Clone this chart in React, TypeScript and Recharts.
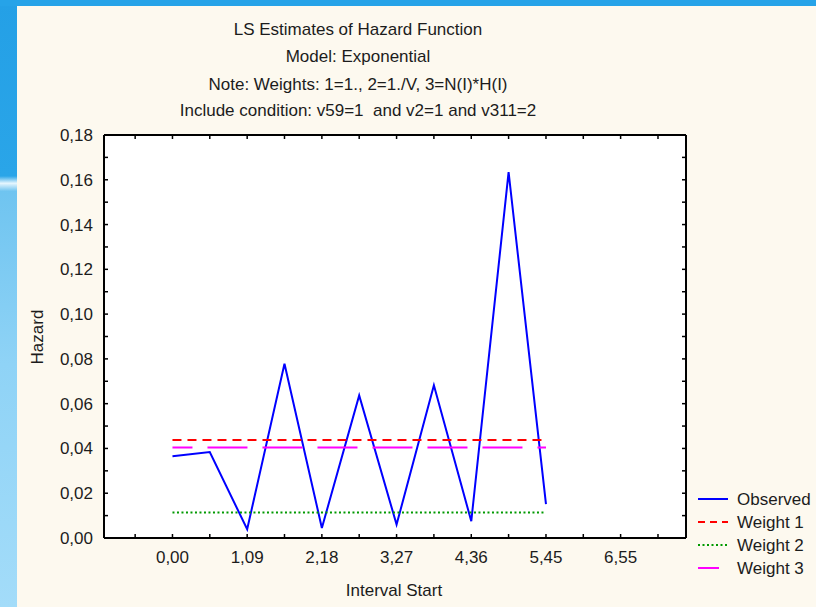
import React from 'react';
import { LineChart, Line, XAxis, YAxis, CartesianGrid, Legend } from 'recharts';

// interval starts (x) and the four series
const intervalStart = [0, 0.545, 1.091, 1.636, 2.182, 2.727, 3.273, 3.818, 4.364, 4.909, 5.455];
const observed = [0.0365, 0.0384, 0.0039, 0.0778, 0.0045, 0.0637, 0.006, 0.0682, 0.0075, 0.1634, 0.0151];
const weight1 = [0.0438, 0.0438, 0.0438, 0.0438, 0.0438, 0.0438, 0.0438, 0.0438, 0.0438, 0.0438, 0.0438];
const weight2 = [0.0114, 0.0114, 0.0114, 0.0114, 0.0114, 0.0114, 0.0114, 0.0114, 0.0114, 0.0114, 0.0114];
const weight3 = [0.0404, 0.0404, 0.0404, 0.0404, 0.0404, 0.0404, 0.0404, 0.0404, 0.0404, 0.0404, 0.0404];

const xMajorTicks = [0, 1.091, 2.182, 3.273, 4.364, 5.455, 6.545];
const xTickLabels = ['0,00', '1,09', '2,18', '3,27', '4,36', '5,45', '6,55'];
const xMinorTicks = [-0.545, 0.545, 1.636, 2.727, 3.818, 4.909, 6.0, 7.091];

const yMajorTicks = [0, 0.02, 0.04, 0.06, 0.08, 0.1, 0.12, 0.14, 0.16, 0.18];
const yTickLabels = ['0,00', '0,02', '0,04', '0,06', '0,08', '0,10', '0,12', '0,14', '0,16', '0,18'];
const yMinorTicks = [0.01, 0.03, 0.05, 0.07, 0.09, 0.11, 0.13, 0.15, 0.17];

const titleLines = [
  'LS Estimates of Hazard Function',
  'Model: Exponential',
  'Note: Weights: 1=1., 2=1./V, 3=N(I)*H(I)',
  'Include condition: v59=1  and v2=1 and v311=2',
];

const data = intervalStart.map((x, i) => ({
  x,
  observed: observed[i],
  w1: weight1[i],
  w2: weight2[i],
  w3: weight3[i],
}));

const xTicks = [...xMinorTicks, ...xMajorTicks].sort((a, b) => a - b);
const yTicks = [...yMinorTicks, ...yMajorTicks].sort((a, b) => a - b);

const FONT = '"Liberation Sans", Arial, sans-serif';
const TEXT = '#1c1c1c';

const SERIES = [
  { key: 'observed', name: 'Observed', color: '#0000ff', width: 2, dash: undefined, offset: 0, sample: 30 },
  { key: 'w1', name: 'Weight 1', color: '#ff0000', width: 2, dash: '9 6', offset: 0, sample: 30 },
  { key: 'w2', name: 'Weight 2', color: '#009900', width: 2, dash: '2 2.5', offset: 0, sample: 30 },
  { key: 'w3', name: 'Weight 3', color: '#ff00ff', width: 2, dash: '40 15', offset: 20, sample: 21 },
];

const BottomTick = ({ x, y, payload }: any) => {
  const i = xMajorTicks.indexOf(payload.value);
  return (
    <g>
      <line x1={x} x2={x} y1={y} y2={y - 4} stroke="#000" strokeWidth={1.5} />
      {i >= 0 && (
        <text x={x} y={y + 25} textAnchor="middle" fontSize={17} fontFamily={FONT} fill={TEXT}>
          {xTickLabels[i]}
        </text>
      )}
    </g>
  );
};

const TopTick = ({ x, y }: any) => (
  <line x1={x} x2={x} y1={y} y2={y + 4} stroke="#000" strokeWidth={1.5} />
);

const LeftTick = ({ x, y, payload }: any) => {
  const i = yMajorTicks.indexOf(payload.value);
  return (
    <g>
      <line x1={x} x2={x + 4} y1={y} y2={y} stroke="#000" strokeWidth={1.5} />
      {i >= 0 && (
        <text x={x - 11} y={y + 6} textAnchor="end" fontSize={17} fontFamily={FONT} fill={TEXT}>
          {yTickLabels[i]}
        </text>
      )}
    </g>
  );
};

const RightTick = ({ x, y }: any) => (
  <line x1={x} x2={x - 4} y1={y} y2={y} stroke="#000" strokeWidth={1.5} />
);

const LegendBox = () => (
  <svg width={126} height={100} style={{ display: 'block' }}>
    {SERIES.map((s, i) => (
      <g key={s.key}>
        <line
          x1={8}
          x2={8 + s.sample}
          y1={11 + i * 23}
          y2={11 + i * 23}
          stroke={s.color}
          strokeWidth={2}
          strokeDasharray={s.key === 'w3' ? undefined : s.dash === '9 6' ? '7 5' : s.dash}
        />
        <text x={47} y={17 + i * 23} fontSize={17} fontFamily={FONT} fill={TEXT}>
          {s.name}
        </text>
      </g>
    ))}
  </svg>
);

export default function App() {
  return (
    <div
      style={{
        position: 'relative',
        width: 816,
        height: 607,
        overflow: 'hidden',
        fontFamily: FONT,
        background:
          'linear-gradient(180deg, #24a0e6 0%, #2aa5e8 29%, #e6f6fe 30.2%, #6fc4f0 31.5%, #8fd3f6 60%, #a3dcf9 100%)',
      }}
    >
      <style>{'body{margin:0}'}</style>
      <div style={{ position: 'absolute', left: 0, top: 0, width: 816, height: 6, background: '#26a3e8' }} />
      <div style={{ position: 'absolute', left: 17, top: 6, right: 0, bottom: 0, background: '#fdf9ef' }} />

      {titleLines.map((t, i) => (
        <div
          key={i}
          style={{
            position: 'absolute',
            left: 158,
            width: 400,
            top: [19, 46, 74, 100][i],
            textAlign: 'center',
            fontSize: 17,
            lineHeight: '22px',
            color: TEXT,
            whiteSpace: 'pre',
          }}
        >
          {t}
        </div>
      ))}

      <div
        style={{
          position: 'absolute',
          left: 38 - 40,
          top: 337 - 11,
          width: 80,
          height: 22,
          lineHeight: '22px',
          textAlign: 'center',
          fontSize: 17,
          color: TEXT,
          transform: 'rotate(-90deg)',
        }}
      >
        Hazard
      </div>
      <div
        style={{
          position: 'absolute',
          left: 394 - 80,
          top: 580,
          width: 160,
          lineHeight: '22px',
          textAlign: 'center',
          fontSize: 17,
          color: TEXT,
        }}
      >
        Interval Start
      </div>

      <div style={{ position: 'absolute', left: 0, top: 0 }}>
        <LineChart width={816} height={607} data={data} margin={{ top: 115, right: 110, bottom: 39, left: 44 }}>
          <CartesianGrid fill="#ffffff" horizontal={false} vertical={false} />
          <XAxis
            dataKey="x"
            type="number"
            domain={[-1, 7.5]}
            ticks={xTicks}
            interval={0}
            height={30}
            tickSize={0}
            tickMargin={0}
            tickLine={false}
            tick={<BottomTick />}
            axisLine={{ stroke: '#000', strokeWidth: 2 }}
            allowDataOverflow
          />
          <XAxis
            xAxisId="top"
            orientation="top"
            dataKey="x"
            type="number"
            domain={[-1, 7.5]}
            ticks={xTicks}
            interval={0}
            height={20}
            tickSize={0}
            tickMargin={0}
            tickLine={false}
            tick={<TopTick />}
            axisLine={{ stroke: '#000', strokeWidth: 2 }}
            allowDataOverflow
          />
          <YAxis
            type="number"
            domain={[0, 0.18]}
            ticks={yTicks}
            interval={0}
            width={60}
            tickSize={0}
            tickMargin={0}
            tickLine={false}
            tick={<LeftTick />}
            axisLine={{ stroke: '#000', strokeWidth: 2 }}
            allowDataOverflow
          />
          <YAxis
            yAxisId="right"
            orientation="right"
            type="number"
            domain={[0, 0.18]}
            ticks={yTicks}
            interval={0}
            width={20}
            tickSize={0}
            tickMargin={0}
            tickLine={false}
            tick={<RightTick />}
            axisLine={{ stroke: '#000', strokeWidth: 2 }}
            allowDataOverflow
          />
          <Legend
            layout="vertical"
            align="center"
            verticalAlign="middle"
            content={<LegendBox />}
            wrapperStyle={{ position: 'absolute', left: 690, top: 488, width: 126 }}
          />
          {SERIES.map((s) => (
            <Line
              key={s.key}
              type="linear"
              dataKey={s.key}
              name={s.name}
              stroke={s.color}
              strokeWidth={s.width}
              strokeDasharray={s.dash}
              strokeDashoffset={s.offset}
              dot={false}
              activeDot={false}
              isAnimationActive={false}
            />
          ))}
        </LineChart>
      </div>
    </div>
  );
}
